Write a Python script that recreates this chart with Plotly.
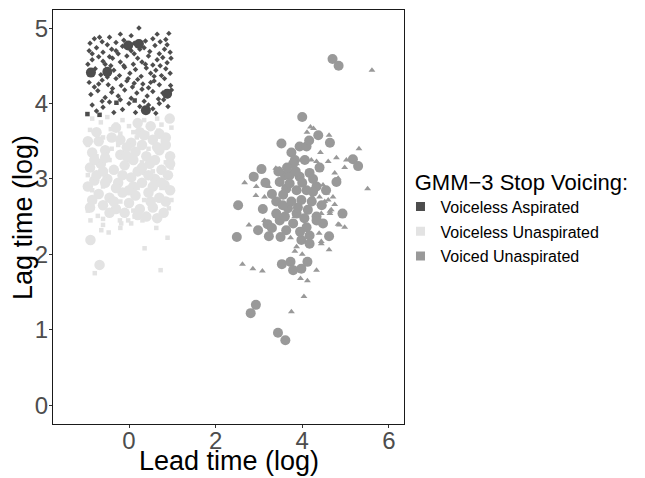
import plotly.graph_objects as go

# ---------------- data ----------------
# Voiceless Aspirated
asp_diamond_x = [-0.80,-0.62,-0.45,-0.30,-0.12,0.23,0.38,0.55,0.72,0.92,0.85,-0.90,
                 -0.92,-0.75,-0.60,-0.40,-0.25,-0.15,0.05,0.12,0.35,0.48,0.60,0.70,0.82,0.95,-0.50,
                 -0.85,-0.70,-0.55,-0.38,-0.20,-0.05,0.10,0.20,0.30,0.45,0.55,0.65,0.78,0.88,0.97,-0.95,
                 -0.78,-0.65,-0.35,-0.22,-0.10,0.02,0.15,0.28,0.40,0.50,0.62,0.75,0.85,0.95,-0.42,
                 -0.92,-0.80,-0.62,-0.48,-0.30,-0.18,-0.05,0.08,0.20,0.32,0.45,0.58,0.70,0.82,0.96,
                 -0.88,-0.72,-0.55,-0.40,-0.25,-0.10,0.05,0.18,0.30,0.42,0.55,0.68,0.78,0.98,
                 -0.85,-0.60,-0.45,-0.15,0.00,0.25,0.55,0.70,0.90,-0.35,0.62,
                 -0.68,0.05,0.65,-0.85,-0.30,0.25,0.88,-0.60,-0.12,0.38,0.72,-0.90,-0.50,-0.02,0.58,
                 -0.70,-0.38,0.12,0.50,0.90,-0.62,-0.20,0.35,0.80,-0.75,0.15,0.45,-0.45,0.12,-0.20]
asp_diamond_y = [4.86,4.82,4.88,4.81,4.84,5.00,4.83,4.86,4.82,4.93,4.85,4.80,
                 4.70,4.74,4.68,4.72,4.66,4.76,4.70,4.66,4.74,4.69,4.77,4.66,4.72,4.68,4.78,
                 4.58,4.62,4.52,4.60,4.55,4.63,4.52,4.60,4.55,4.63,4.51,4.58,4.61,4.54,4.60,4.52,
                 4.46,4.38,4.44,4.37,4.48,4.40,4.45,4.36,4.47,4.40,4.44,4.37,4.46,4.40,4.50,
                 4.28,4.22,4.31,4.25,4.33,4.24,4.30,4.22,4.32,4.26,4.21,4.30,4.25,4.33,4.24,
                 4.12,4.17,4.08,4.15,4.10,4.18,4.07,4.14,4.19,4.10,4.16,4.06,4.14,4.18,
                 3.98,3.95,4.02,3.92,4.00,3.96,3.93,4.00,3.96,3.88,3.87,
                 4.88,4.90,4.92,4.66,4.70,4.72,4.78,4.56,4.50,4.52,4.50,4.40,4.35,4.33,4.36,
                 4.26,4.20,4.27,4.28,4.10,4.03,4.05,4.03,4.05,3.90,3.88,3.98,4.62,4.80,4.92]
asp_square_x = [-0.96,-0.68,-0.29,0.13]
asp_square_y = [3.86,3.85,4.01,4.04]
asp_circle_x = [-0.88,-0.50,-0.02,0.23,0.88,0.39]
asp_circle_y = [4.41,4.42,4.77,4.79,4.13,3.91]

# Voiceless Unaspirated
una_square_x = [-0.85,-0.65,-0.50,-0.30,-0.15,0.00,0.35,0.50,0.65,0.75,-0.90,-0.72,-0.42,-0.20,0.10,0.42,0.68,0.98,-0.60,0.18,0.78,
                -0.95,-0.25,0.65,-0.75,0.00,0.85,-0.45,0.30,-0.95,-0.20,0.35,0.98,-0.60,0.20,0.75,-0.85,0.55,-0.40,0.45,
                -0.80,-0.20,0.35,0.92,0.98,-0.50,0.10,-0.95,
                -0.89,-0.72,-0.60,-0.60,-0.64,-0.47,-0.21,-0.18,-0.02,0.05,0.13,0.31,0.63,0.89,0.36,0.73,-0.79,-0.20]
una_square_y = [3.80,3.75,3.82,3.72,3.78,3.70,3.78,3.70,3.80,3.72,3.65,3.62,3.66,3.60,3.62,3.60,3.64,3.68,3.55,3.55,3.50,
                3.45,3.45,3.45,3.30,3.25,3.22,3.25,3.22,3.05,3.05,3.08,3.15,2.90,2.88,2.88,2.85,3.10,3.40,3.40,
                2.70,2.70,2.72,2.61,2.72,2.55,2.58,2.58,
                2.45,2.51,2.47,2.39,2.32,2.29,2.45,2.41,2.45,2.41,2.50,2.45,2.35,2.22,2.08,1.79,1.75,2.35]
una_circle_x = [0.20,0.94,0.25,-0.70,-0.40,0.05,0.55,0.85,
                -0.85,-0.55,-0.20,0.15,0.40,0.70,0.95,-0.05,
                -0.90,-0.65,-0.35,-0.10,0.20,0.48,0.75,0.90,
                -0.80,-0.50,-0.25,0.05,0.30,0.60,0.82,-0.95,
                -0.70,-0.45,-0.15,0.15,0.45,0.70,0.95,
                -0.90,-0.60,-0.30,0.00,0.25,0.55,0.80,0.40,0.65,-0.10,
                -0.55,0.30,0.60,-0.30,0.10,-0.89,-0.68,
                -0.75,-0.30,0.50,0.70,-0.95,-0.20,0.35,0.65,-0.75,-0.05,0.30,0.55,0.85,-0.60,
                -0.35,-0.85,0.00,0.20,0.85,-0.45,0.50,0.75,-0.15,0.95,-0.55,0.10,0.45,-0.80]
una_circle_y = [3.74,3.80,3.62,3.50,3.55,3.48,3.52,3.55,
                3.35,3.38,3.32,3.36,3.30,3.38,3.30,3.42,
                3.15,3.20,3.12,3.18,3.10,3.20,3.12,3.05,
                2.98,3.00,2.95,3.02,2.95,3.00,2.92,2.90,
                2.80,2.75,2.82,2.78,2.82,2.75,2.85,
                2.62,2.65,2.60,2.68,2.60,2.62,2.55,2.50,2.48,2.55,
                3.28,3.45,3.25,2.88,2.90,2.19,1.86,
                3.62,3.68,3.70,3.60,3.50,3.52,3.58,3.42,3.05,3.30,3.15,2.90,3.45,3.10,
                2.70,2.72,2.85,2.52,2.70,2.55,2.70,2.95,3.05,3.20,2.95,3.25,3.05,3.25]

# Voiced Unaspirated
voi_triangle_x = [5.61,4.26,4.19,4.11,4.62,5.31,4.79,4.60,5.02,4.98,4.42,4.21,4.33,3.39,3.48,2.67,2.94,2.93,3.13,5.51,
                  4.75,4.83,4.48,4.56,4.71,4.75,4.60,4.40,4.48,4.64,4.44,2.77,3.13,4.83,4.98,4.39,4.44,4.62,3.83,4.00,
                  2.62,2.86,3.08,4.33,3.96,4.12,4.04,3.75,4.64,4.40,3.73,3.33,3.87,4.44,3.83,4.23,4.31,3.98,3.87,3.23,
                  4.52,4.67,4.86]
voi_triangle_y = [4.44,3.67,3.69,3.62,3.58,3.40,3.28,3.23,3.25,3.15,3.35,3.25,3.23,3.14,3.13,2.95,2.90,2.78,2.76,2.87,
                  3.08,3.01,2.92,2.81,2.76,2.66,2.72,2.76,2.65,2.54,2.54,2.39,2.45,2.40,2.36,2.28,2.14,2.06,2.04,2.00,
                  1.87,1.81,1.78,1.79,1.68,1.65,1.44,1.24,2.57,2.67,2.22,2.34,2.10,2.17,2.50,2.76,2.94,3.25,3.20,2.90,
                  2.70,2.59,2.39]
voi_circle_x = [4.70,4.84,4.00,3.52,3.94,4.10,4.16,4.37,4.64,3.75,3.83,5.17,5.29,3.06,2.88,3.60,3.71,3.94,4.17,4.79,
                2.52,3.09,3.40,3.63,4.10,4.33,4.93,2.98,2.49,3.23,3.50,4.62,3.98,4.17,3.53,3.73,3.79,3.98,4.12,2.93,
                2.81,3.44,3.61,
                3.71,3.87,3.56,3.98,4.25,3.67,3.87,4.13,3.48,3.79,4.10,3.63,4.17,4.33,3.40,3.79,4.06,4.48,3.48,4.33,
                3.90,3.55,4.00,3.85,4.22,
                3.30,3.45,3.20,3.75,4.45,4.05,3.60,3.95,4.25,3.65,4.40,3.30,4.55,3.15]
voi_circle_y = [4.59,4.50,3.82,3.47,3.43,3.43,3.51,3.58,3.48,3.35,3.25,3.26,3.17,3.13,3.03,3.05,3.05,3.03,3.08,2.96,
                2.65,2.60,2.70,2.87,2.85,2.90,2.54,2.32,2.23,2.24,2.23,2.24,2.19,2.14,1.87,1.90,1.79,1.81,1.90,1.33,
                1.22,0.96,0.86,
                2.94,2.85,2.79,2.72,2.83,2.61,2.54,2.59,2.45,2.41,2.36,2.32,2.25,2.50,2.54,3.20,3.25,2.41,2.96,2.45,
                2.62,2.65,2.95,3.10,2.70,
                2.80,3.10,2.40,2.70,2.65,2.48,2.50,2.30,3.00,3.15,3.15,2.35,2.85,2.95]

group_names = ["Voiceless Aspirated", "Voiceless Unaspirated", "Voiced Unaspirated"]
group_colors = ["#4D4D4D", "#E3E3E3", "#999999"]

x_ticks = [0, 2, 4, 6]
y_ticks = [0, 1, 2, 3, 4, 5]

# ---------------- figure ----------------
fig = go.Figure()

def add_pts(xs, ys, color, symbol, size):
    fig.add_trace(go.Scatter(
        x=xs, y=ys, mode="markers", showlegend=False, hoverinfo="skip",
        marker=dict(color=color, symbol=symbol, size=size, line=dict(width=0)),
    ))

c_asp, c_una, c_voi = group_colors
add_pts(una_square_x, una_square_y, c_una, "square", 4.5)
add_pts(una_circle_x, una_circle_y, c_una, "circle", 10.5)
add_pts(voi_triangle_x, voi_triangle_y, c_voi, "triangle-up", 6)
add_pts(voi_circle_x, voi_circle_y, c_voi, "circle", 10)
add_pts(asp_diamond_x, asp_diamond_y, c_asp, "diamond", 4.2)
add_pts(asp_square_x, asp_square_y, c_asp, "square", 4.5)
add_pts(asp_circle_x, asp_circle_y, c_asp, "circle", 10)

# legend entries
for name, col in zip(group_names, group_colors):
    fig.add_trace(go.Scatter(
        x=[None], y=[None], mode="markers", name=name, legendgroup=name,
        marker=dict(color=col, symbol="square", size=9, line=dict(width=0)),
    ))

font_family = "Liberation Sans, Arial, Helvetica, sans-serif"

fig.update_layout(
    width=645, height=478,
    margin=dict(l=45, r=249, t=2, b=62),
    plot_bgcolor="white", paper_bgcolor="white",
    font=dict(family=font_family, color="#000000"),
    legend=dict(
        title=dict(text="\u00a0\u00a0GMM\u22123 Stop Voicing:", font=dict(size=22, color="#000000")),
        font=dict(size=16, color="#000000"),
        x=0.99, xanchor="left", y=0.50, yanchor="middle",
        tracegroupgap=1, bgcolor="rgba(0,0,0,0)",
    ),
    xaxis=dict(
        range=[-1.755, 6.35], tickvals=x_ticks, ticktext=[str(v) for v in x_ticks],
        showgrid=False, zeroline=False, showline=True, mirror=True,
        linecolor="#1a1a1a", linewidth=1.2,
        ticks="outside", ticklen=3, tickcolor="#333333", tickwidth=1,
        tickfont=dict(size=24, color="#4D4D4D"), ticklabelstandoff=-8,
    ),
    yaxis=dict(
        range=[-0.25, 5.24], tickvals=y_ticks, ticktext=[str(v) for v in y_ticks],
        showgrid=False, zeroline=False, showline=True, mirror=True,
        linecolor="#1a1a1a", linewidth=1.2,
        ticks="outside", ticklen=3, tickcolor="#333333", tickwidth=1,
        tickfont=dict(size=24, color="#4D4D4D"), ticklabelstandoff=-4,
    ),
    annotations=[
        dict(text="Lead time (log)", xref="paper", yref="paper", x=0.5, y=-0.089,
             xanchor="center", yanchor="middle", showarrow=False,
             font=dict(size=27, color="#000000")),
        dict(text="Lag time (log)", xref="paper", yref="paper", x=-0.0855, y=0.5,
             xanchor="center", yanchor="middle", showarrow=False, textangle=-90,
             font=dict(size=27, color="#000000")),
    ],
)

fig.write_html("out.html")
